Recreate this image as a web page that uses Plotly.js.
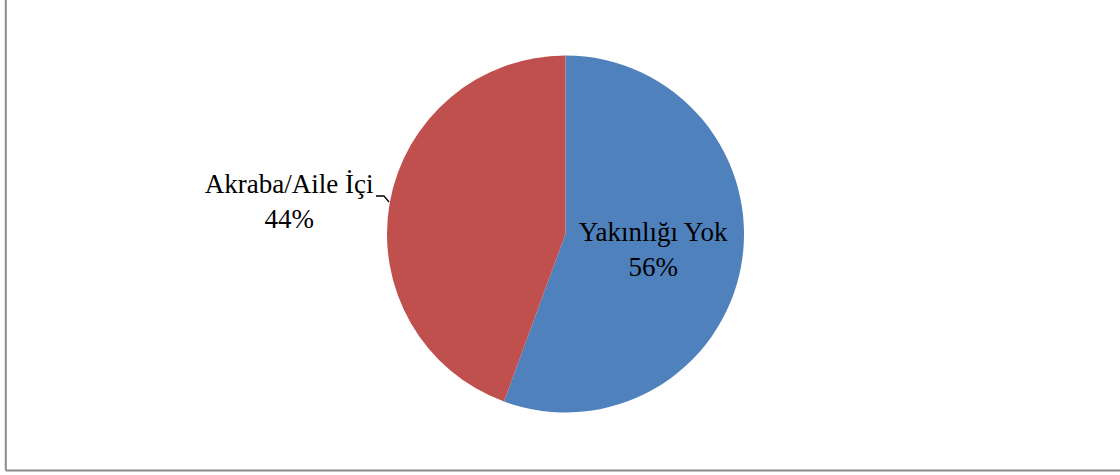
<!DOCTYPE html>
<html>
<head>
<meta charset="utf-8">
<script src="https://cdn.plot.ly/plotly-3.0.1.min.js"></script>
<style>html,body{margin:0;padding:0;background:#fff;}#chart{width:1120px;height:475px;}</style>
</head>
<body>
<div id="chart"></div>
<script>
const categories = ['Yakınlığı Yok', 'Akraba/Aile İçi'];
const shares = [55.6, 44.4];
const sliceColors = ['#4f81bd', '#c0504d'];

const fontFamily = 'Liberation Serif, DejaVu Serif, serif';

const trace = {
  type: 'pie',
  labels: categories,
  values: shares,
  sort: false,
  direction: 'clockwise',
  rotation: 0,
  marker: {colors: sliceColors, line: {width: 0}},
  texttemplate: '%{label}<br>%{percent:.0%}',
  textposition: ['inside', 'outside'],
  insidetextorientation: 'horizontal',
  textfont: {family: fontFamily, size: 27, color: '#000'},
  insidetextfont: {family: fontFamily, size: 27, color: '#000'},
  outsidetextfont: {family: fontFamily, size: 27, color: '#000'},
  automargin: false,
  hoverinfo: 'none',
  domain: {x: [387/1120, 744/1120], y: [1 - 412.5/475, 1 - 55.5/475]}
};

const W = 1120, H = 475;
const layout = {
  width: W, height: H,
  margin: {l: 0, r: 0, t: 0, b: 0},
  paper_bgcolor: '#fff',
  showlegend: false,
  shapes: [
    {type: 'line', xref: 'paper', yref: 'paper', x0: 5.8/W, x1: 5.8/W, y0: 1 - 470.5/H, y1: 1, line: {color: '#8c8c8c', width: 2}},
    {type: 'line', xref: 'paper', yref: 'paper', x0: 5.8/W, x1: 1, y0: 1 - 470.5/H, y1: 1 - 470.5/H, line: {color: '#8c8c8c', width: 2}},
    {type: 'path', xref: 'paper', yref: 'paper',
     path: 'M ' + (376/W) + ' ' + (1 - 196/H) + ' L ' + (384/W) + ' ' + (1 - 196/H) + ' L ' + (389/W) + ' ' + (1 - 202/H),
     line: {color: '#000', width: 1.3}}
  ]
};

Plotly.newPlot('chart', [trace], layout, {displayModeBar: false, staticPlot: true});
</script>
</body>
</html>
